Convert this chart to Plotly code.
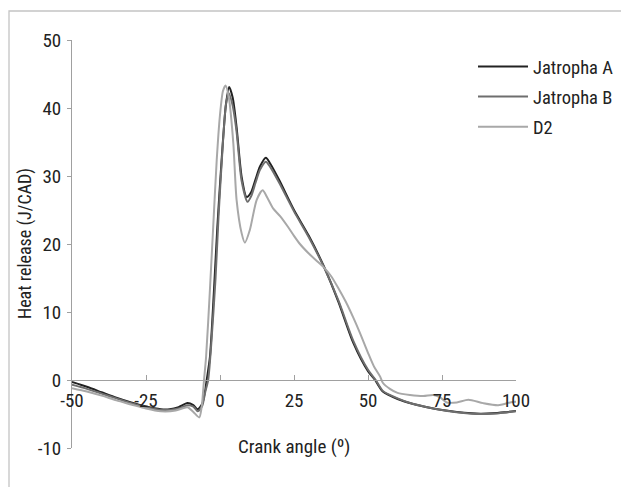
import plotly.graph_objects as go

# ---- data ----
jatA_x = [-50, -45, -40, -35, -30, -25, -20, -17, -14, -11, -9, -7.5, -6, -5, -4.5, -3.4, -2, -0.9, 0.55, 2, 3.1, 4.3, 5.6, 7.3, 9, 10.5, 12, 13.5, 15.5, 17, 20, 25, 30, 35, 40, 45, 50, 52.4, 55, 60, 65, 70, 75, 80, 85, 88, 92, 96, 100]
jatA_y = [-0.3, -1.0, -1.8, -2.6, -3.3, -3.9, -4.3, -4.3, -4.0, -3.4, -3.7, -4.3, -3.5, -1.5, 0, 3.4, 13.5, 22.5, 32.4, 40.5, 43.1, 41.5, 37.2, 29.9, 26.9, 27.6, 29.5, 31.4, 32.7, 31.8, 29.4, 25.0, 21.2, 16.8, 11.5, 5.5, 1.3, 0, -1.7, -2.8, -3.5, -4.0, -4.4, -4.7, -4.9, -4.95, -4.9, -4.75, -4.55]

jatB_x = [-50, -45, -40, -35, -30, -25, -20, -17, -14, -11, -9, -7.5, -6, -5, -4, -3, -1.5, -0.5, 1, 2, 2.9, 4.2, 5.6, 7.3, 9.3, 10.5, 12, 13.5, 15.5, 17, 20, 25, 30, 35, 40, 45, 50, 52.6, 55, 60, 65, 70, 75, 80, 85, 88, 92, 96, 100]
jatB_y = [-0.7, -1.3, -2.0, -2.7, -3.4, -4.0, -4.4, -4.4, -4.2, -3.7, -3.9, -4.6, -3.8, -1.8, 0, 5, 15, 24, 35, 40.5, 42.2, 40.5, 36.5, 29.3, 26.2, 27.0, 29.0, 30.9, 32.1, 31.3, 29.0, 24.8, 21.0, 16.7, 11.7, 5.8, 1.5, 0, -1.6, -2.7, -3.5, -4.0, -4.4, -4.75, -4.95, -5.0, -4.95, -4.8, -4.6]

d2_x = [-50, -45, -40, -35, -30, -25, -20, -15, -11, -9, -7, -6.2, -5.4, -4.7, -3.5, -2.3, -1.1, 0, 1, 1.9, 3, 4.5, 5.6, 7.3, 8.4, 10.1, 12.4, 14.4, 16, 18, 20.3, 23, 25, 27, 30, 33, 35, 37.5, 40, 42.5, 45, 47.3, 50, 52, 54.1, 55, 57.4, 60, 64.2, 68.7, 72.1, 74.5, 76.6, 80, 83.9, 88.9, 94, 98, 100]
d2_y = [-1.2, -1.7, -2.3, -3.0, -3.6, -4.2, -4.6, -4.5, -4.0, -4.7, -5.5, -4.0, 0, 3.4, 12.5, 22.5, 32.4, 39, 42.5, 43.3, 41.5, 34.8, 26.5, 21.6, 20.2, 22.1, 26.5, 27.9, 26.8, 25.2, 24.1, 22.5, 21.2, 20.0, 18.6, 17.4, 16.6, 15.3, 13.5, 11.5, 9.2, 6.9, 4.0, 2.0, 0.5, -0.4, -1.3, -1.9, -2.2, -2.35, -2.2, -2.6, -3.3, -3.3, -2.9, -3.4, -3.7, -3.3, -3.2]

series_names = ["Jatropha A", "Jatropha B", "D2"]
x_ticks = [-50, -25, 0, 25, 50, 75, 100]
y_ticks = [-10, 0, 10, 20, 30, 40, 50]

colors = ["#222222", "#6e6e6e", "#a8a8a8"]
FONT = "Roboto Condensed, Liberation Sans Narrow, sans-serif"
FS = 19
TXT = "#222222"
AX = "#a0a0a0"

fig = go.Figure()
for name, xs, ys, c in zip(series_names, [jatA_x, jatB_x, d2_x], [jatA_y, jatB_y, d2_y], colors):
    fig.add_trace(go.Scatter(
        x=xs, y=ys, name=name, mode="lines", legendgroup=name,
        line=dict(color=c, width=2, shape="spline", smoothing=0.7),
    ))

W, H = 621, 487
L, R, T, B = 72, 105, 40, 39
pw, ph = W - L - R, H - T - B

fig.update_layout(
    width=W, height=H,
    margin=dict(l=L, r=R, t=T, b=B, autoexpand=False),
    paper_bgcolor="white", plot_bgcolor="white",
    font=dict(family=FONT, size=FS, color=TXT),
    showlegend=True,
    legend=dict(
        x=(473 - L) / pw, y=(H - B - 48) / ph, xanchor="left", yanchor="top",
        bgcolor="rgba(0,0,0,0)", itemwidth=50, tracegroupgap=3,
        font=dict(family=FONT, size=18.5, color=TXT),
    ),
    xaxis=dict(
        range=[-50, 100], tickvals=x_ticks, ticktext=[str(v) for v in x_ticks],
        showgrid=False, zeroline=False, showline=True, linecolor=AX, linewidth=1,
        ticks="inside", ticklen=5, tickcolor=AX, anchor="free",
        position=(0 - (-10)) / 60, ticklabelstandoff=3,
    ),
    yaxis=dict(
        range=[-10, 50], tickvals=y_ticks, ticktext=[str(v) for v in y_ticks],
        showgrid=False, zeroline=False, showline=True, linecolor=AX, linewidth=1,
        ticks="outside", ticklen=4, tickcolor=AX, ticklabelstandoff=2,
    ),
    annotations=[
        dict(text="Crank angle (º)", xref="paper", yref="y", x=0.5, y=-10,
             showarrow=False, xanchor="center", yanchor="middle", yshift=2,
             font=dict(family=FONT, size=FS, color=TXT)),
        dict(text="Heat release (J/CAD)", xref="paper", yref="paper",
             x=(25 - L) / pw, y=0.5, textangle=-90, showarrow=False,
             xanchor="center", yanchor="middle",
             font=dict(family=FONT, size=18, color=TXT)),
    ],
    shapes=[
        dict(type="rect", xref="paper", yref="paper",
             x0=(9 - L) / pw, x1=(700 - L) / pw,
             y0=(H - B - 560) / ph, y1=(H - B - 11) / ph,
             line=dict(color="#c4c4c4", width=1.3), fillcolor="rgba(0,0,0,0)", layer="below"),
    ],
)

# remove the page body's default 8px margin so the figure fills the window exactly
fig.write_html(
    "out.html",
    config={"displayModeBar": False},
    post_script="document.body.style.margin='0px';document.body.style.overflow='hidden';",
)
